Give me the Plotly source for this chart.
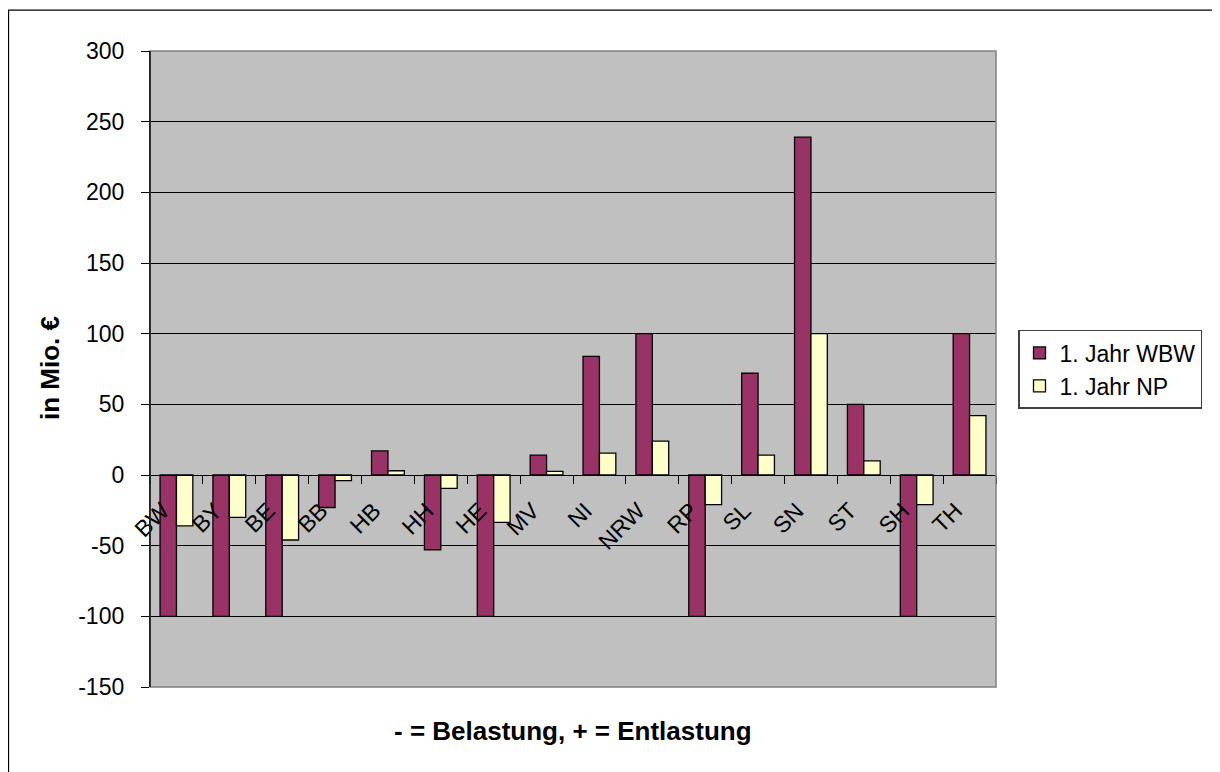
import plotly.graph_objects as go

categories = ["BW", "BY", "BE", "BB", "HB", "HH", "HE", "MV", "NI", "NRW",
              "RP", "SL", "SN", "ST", "SH", "TH"]
wbw = [-100, -100, -100, -23, 17, -53, -100, 14, 84, 100, -100, 72, 239, 50, -100, 100]
np_vals = [-36, -30, -46, -4, 3, -9.5, -33.5, 2.5, 15.5, 24, -21, 14, 100, 10, -21, 42]
series_names = ["1. Jahr WBW", "1. Jahr NP"]
y_ticks = [-150, -100, -50, 0, 50, 100, 150, 200, 250, 300]
y_tick_labels = ["-150", "-100", "-50", "0", "50", "100", "150", "200", "250", "300"]

O = 8  # page body margin
W, H = 1220 - O, 772 - O
L, R, T, B = 150 - O, 996 - O, 50.5 - O, 687.5 - O
pw, ph = R - L, B - T

def px(x):
    return (x - O - L) / pw

def py(y):
    return (B - (y - O)) / ph

font = "Liberation Sans, Arial, sans-serif"

fig = go.Figure()
fig.add_trace(go.Bar(x=categories, y=wbw, name=series_names[0],
                     marker=dict(color="#993366", line=dict(color="black", width=1.3))))
fig.add_trace(go.Bar(x=categories, y=np_vals, name=series_names[1],
                     marker=dict(color="#FFFFCC", line=dict(color="black", width=1.3))))

ymin, ymax = y_ticks[0], y_ticks[-1]
zero_pos = (0 - ymin) / (ymax - ymin)

fig.update_layout(
    width=W, height=H,
    margin=dict(l=L, r=W - R, t=T, b=H - B, pad=0),
    paper_bgcolor="white",
    plot_bgcolor="#C0C0C0",
    barmode="group", bargap=0.38, bargroupgap=0,
    font=dict(family=font, size=23, color="black"),
    showlegend=True,
    legend=dict(x=px(1018), y=py(409), xanchor="left", yanchor="bottom",
                bgcolor="white", bordercolor="#404040", borderwidth=1.5,
                font=dict(size=23, family=font), itemwidth=30,
                tracegroupgap=0),
    xaxis=dict(type="category", anchor="free", position=zero_pos,
               showline=True, linecolor="black", linewidth=1.3,
               ticks="outside", ticklen=8, tickcolor="black", tickson="boundaries",
               tickangle=-45, tickfont=dict(size=23, family=font),
               ticklabelstandoff=12, ticklabelshift=-14,
               showgrid=False, zeroline=False),
    yaxis=dict(range=[ymin, ymax], tickvals=y_ticks, ticktext=y_tick_labels,
               showline=True,
               linecolor="black", linewidth=1.3, ticks="outside", ticklen=8,
               tickcolor="black", showgrid=True, gridcolor="black", gridwidth=1,
               zeroline=False, tickfont=dict(size=23, family=font),
               ticklabelstandoff=12),
    annotations=[
        dict(text="<b>in Mio. €</b>", x=px(50), y=py(368), xref="paper", yref="paper",
             textangle=-90, showarrow=False, font=dict(size=26, family=font),
             xanchor="center", yanchor="middle"),
        dict(text="<b>- = Belastung, + = Entlastung</b>", x=px(573), y=py(732),
             xref="paper", yref="paper", showarrow=False,
             font=dict(size=26, family=font), xanchor="center", yanchor="middle"),
    ],
    shapes=[
        dict(type="rect", xref="paper", yref="paper", x0=0, x1=1, y0=0, y1=1,
             line=dict(color="#808080", width=1.5), layer="above"),
        dict(type="line", xref="paper", yref="paper", x0=0, x1=0, y0=0, y1=1,
             line=dict(color="black", width=1.3), layer="above"),
        dict(type="rect", xref="paper", yref="paper", x0=px(8.5), x1=px(1240),
             y0=py(800), y1=py(9.5), line=dict(color="black", width=1.3)),
    ],
)

fig.write_html("out.html")
